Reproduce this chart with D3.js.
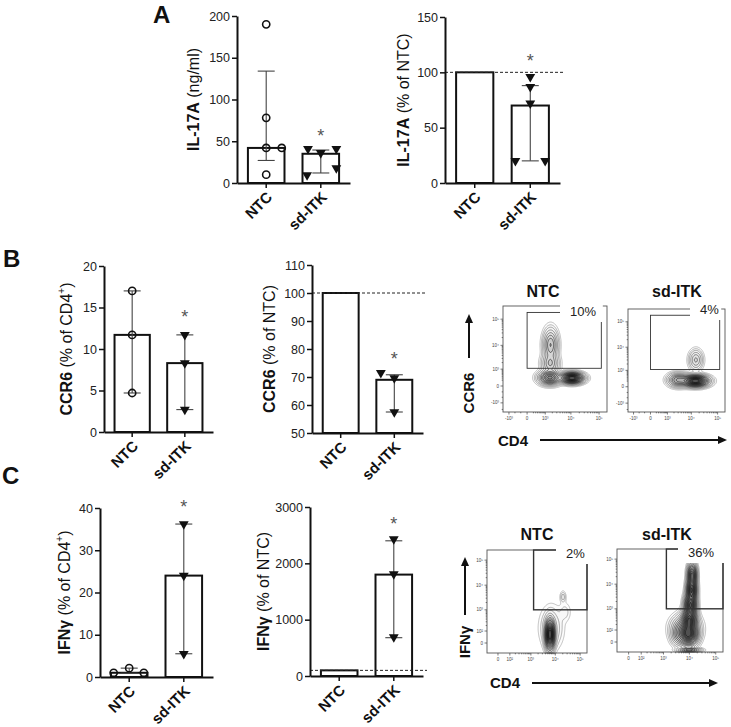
<!DOCTYPE html>
<html><head><meta charset="utf-8">
<script src="https://cdn.jsdelivr.net/npm/d3@7"></script>
<style>body{margin:0;background:#fff} svg{display:block} text{font-family:"Liberation Sans",Arial,Helvetica,sans-serif}</style>
</head><body><svg id="c" width="731" height="727"></svg>
<script>
// ---------------- DATA ----------------
const categories = ["NTC", "sd-ITK"];

// A (left): IL-17A (ng/ml)
const a1Ticks = [0, 50, 100, 150, 200];
const a1Bars = [42, 35];
const a1ErrLow = [27, 12];
const a1ErrHigh = [134, 39.5];
const a1NtcPoints = [190, 78, 42, 42, 10];
const a1NtcJitter = [0, 0, 0, 0.85, 0];
const a1ItkPoints = [41, 41, 36, 18, 9.6];
const a1ItkJitter = [-0.7, 0.85, 0, 0.85, -0.75];
const a1Star = 61;

// A (right): IL-17A (% of NTC)
const a2Ticks = [0, 50, 100, 150];
const a2Bars = [100, 70];
const a2ErrLow = [null, 20];
const a2ErrHigh = [null, 88];
const a2NtcPoints = [];
const a2NtcJitter = [];
const a2ItkPoints = [96, 87, 72, 20, 20];
const a2ItkJitter = [0, 0, 0, -0.8, 0.8];
const a2Star = 114;

// B (left): CCR6 (% of CD4+)
const b1Ticks = [0, 5, 10, 15, 20];
const b1Bars = [11.7, 8.3];
const b1ErrLow = [4.7, 2.7];
const b1ErrHigh = [17, 11.7];
const b1NtcPoints = [17, 11.7, 4.7];
const b1NtcJitter = [0, 0, 0];
const b1ItkPoints = [11.7, 8.3, 2.7];
const b1ItkJitter = [0, 0, 0];
const b1Star = 14.3;

// B (middle): CCR6 (% of NTC)
const b2Ticks = [50, 60, 70, 80, 90, 100, 110];
const b2Bars = [100, 69];
const b2ErrLow = [null, 57.5];
const b2ErrHigh = [null, 70.8];
const b2NtcPoints = [];
const b2NtcJitter = [];
const b2ItkPoints = [71.5, 69.6, 57.5];
const b2ItkJitter = [-0.75, 0, 0];
const b2Star = 78;

// C (left): IFNγ (% of CD4+)
const c1Ticks = [0, 10, 20, 30, 40];
const c1Bars = [1.0, 24];
const c1ErrLow = [0.9, 5.5];
const c1ErrHigh = [2.1, 36.2];
const c1NtcPoints = [1, 2.1, 1];
const c1NtcJitter = [-0.85, 0, 0.8];
const c1ItkPoints = [36.2, 24, 5.5];
const c1ItkJitter = [0, 0, 0];
const c1Star = 41.2;

// C (middle): IFNγ (% of NTC)
const c2Ticks = [0, 1000, 2000, 3000];
const c2Bars = [100, 1800];
const c2ErrLow = [null, 680];
const c2ErrHigh = [null, 2400];
const c2NtcPoints = [];
const c2NtcJitter = [];
const c2ItkPoints = [2430, 1810, 690];
const c2ItkJitter = [0, 0, 0];
const c2Star = 2770;

// Flow cytometry (contour plots)
const flowTitles = ["NTC", "sd-ITK"];
const flowBPercents = ["10%", "4%"];
const flowCPercents = ["2%", "36%"];
const flowBXDomain = [-1800, 190000];
const flowBYDomain = [-2575, 315000];
const flowCXDomain = [-88, 189000];
const flowCYDomain = [-75, 253000];
const flowBTickValues = [-1000, 0, 1000, 10000, 100000];
const flowBTickLabels = ["-10³", "0", "10³", "10⁴", "10⁵"];
const flowCTickValues = [0, 100, 1000, 10000, 100000];
const flowCTickLabels = ["0", "10²", "10³", "10⁴", "10⁵"];
const flowBGate = [0, 120000, 1100, 180000];     // CD4 min/max, CCR6 min/max
const flowCGate = [1300, 189000, 1000, 253000];  // CD4 min/max, IFNγ min/max
// density blobs: [CD4, marker, spread CD4 (decades), spread marker (decades), weight]
const flowBNtcBlobs = [[11000, 300, 0.45, 0.23, 1.0], [1600, 320, 0.45, 0.3, 0.5], [1700, 10400, 0.3, 0.7, 0.22], [1650, 1800, 0.35, 0.45, 0.16]];
const flowBItkBlobs = [[14400, 205, 0.55, 0.25, 1.0], [3100, 250, 0.45, 0.3, 0.32], [15000, 3000, 0.3, 0.45, 0.12]];
const flowCNtcBlobs = [[6100, 60, 0.22, 0.7, 1.0], [7000, 150, 0.55, 1.0, 0.05], [24600, 806, 0.3, 0.5, 0.015], [20500, 3350, 0.14, 0.28, 0.03]];
const flowCItkBlobs = [[12800, 23400, 0.2, 0.55, 0.8], [12200, 5850, 0.22, 0.55, 1.0], [11000, 1430, 0.26, 0.55, 1.0], [10000, 325, 0.32, 0.55, 1.0], [9400, 45, 0.4, 0.5, 1.0], [7200, 130, 0.58, 0.6, 0.45], [3900, 45, 0.35, 0.5, 0.2], [10000, -54, 0.5, 0.1, 0.35]];
const contourLevels = [0.004, 0.01, 0.02, 0.04, 0.07, 0.11, 0.16, 0.22, 0.3, 0.38, 0.47, 0.56, 0.66, 0.76, 0.86];

// ---------------- LAYOUT ----------------
const svg = d3.select("#c");
const FONT = '"Liberation Sans",Arial,Helvetica,sans-serif';

function barPanel(L, D) {
  const g = svg.append("g");
  const y = d3.scaleLinear().domain([D.ticks[0], D.ticks[D.ticks.length - 1]]).range([L.yBot, L.yTop]);
  const x = d3.scaleBand().domain(categories).range([L.x0, L.x1]).paddingInner(0.33).paddingOuter(0.2);
  const bw = x.bandwidth();
  const base = y.domain()[0];
  g.selectAll("rect.bar").data(D.bars).join("rect")
    .attr("x", (d, i) => x(categories[i])).attr("y", d => y(d))
    .attr("width", bw).attr("height", d => y(base) - y(d))
    .attr("fill", "#fff").attr("stroke", "#111").attr("stroke-width", 2);
  if (D.dashed != null) {
    g.append("line").attr("x1", L.x0).attr("x2", L.x1 + 4).attr("y1", y(D.dashed)).attr("y2", y(D.dashed))
      .attr("stroke", "#222").attr("stroke-width", 1).attr("stroke-dasharray", "3,2");
  }
  const capW = 17;
  D.bars.forEach((b, i) => {
    if (D.errLow[i] == null) return;
    const cx = x(categories[i]) + bw / 2;
    const eg = g.append("g").attr("stroke", "#444").attr("stroke-width", 1.1);
    eg.append("line").attr("x1", cx).attr("x2", cx).attr("y1", y(D.errLow[i])).attr("y2", y(D.errHigh[i]));
    [D.errLow[i], D.errHigh[i]].forEach(v => eg.append("line").attr("x1", cx - capW / 2).attr("x2", cx + capW / 2).attr("y1", y(v)).attr("y2", y(v)));
  });
  const cx0 = x(categories[0]) + bw / 2, cx1 = x(categories[1]) + bw / 2;
  D.ntc.forEach((v, i) => {
    g.append("circle").attr("cx", cx0 + D.ntcJ[i] * bw / 2).attr("cy", y(v)).attr("r", 3.6)
      .attr("fill", "none").attr("stroke", "#111").attr("stroke-width", 1.6);
  });
  const tri = d3.symbol(d3.symbolTriangle, 42);
  D.itk.forEach((v, i) => {
    g.append("path").attr("d", tri).attr("fill", "#111")
      .attr("transform", `translate(${cx1 + D.itkJ[i] * bw / 2},${y(v)}) rotate(180)`);
  });
  g.append("text").attr("x", cx1).attr("y", y(D.star) + 10).attr("text-anchor", "middle")
    .attr("font-size", 18).attr("fill", "#555").text("*");
  const ya = g.append("g").attr("transform", `translate(${L.x0},0)`)
    .call(d3.axisLeft(y).tickValues(D.ticks).tickFormat(d3.format("d")).tickSize(5).tickSizeOuter(0).tickPadding(2));
  ya.select(".domain").attr("stroke-width", 2).attr("stroke", "#111");
  ya.selectAll(".tick line").attr("stroke-width", 1.5).attr("stroke", "#111");
  ya.selectAll(".tick text").attr("font-size", 12.5).attr("font-family", FONT).attr("fill", "#222");
  const xa = g.append("g").attr("transform", `translate(0,${L.yBot})`)
    .call(d3.axisBottom(x).tickSize(5).tickSizeOuter(0));
  xa.select(".domain").attr("stroke-width", 2).attr("stroke", "#111");
  xa.selectAll(".tick line").attr("stroke-width", 1.5).attr("stroke", "#111");
  xa.selectAll(".tick text").attr("font-size", 15).attr("font-weight", "bold").attr("font-family", FONT)
    .attr("fill", "#111").attr("text-anchor", "end").attr("x", 0).attr("y", 0).attr("dy", 0)
    .attr("transform", "translate(7,15) rotate(-45)");
  const t = g.append("text").attr("transform", `translate(${L.labelX},${(L.yTop + L.yBot) / 2}) rotate(-90)`)
    .attr("text-anchor", "middle").attr("font-size", 16).attr("fill", "#111");
  D.label.forEach(part => {
    const s = t.append("tspan").text(part[0]);
    if (part[1] === "b") s.attr("font-weight", "bold");
    if (part[1] === "sup") s.attr("font-size", 10).attr("dy", -7);
    if (part[1] === "after") s.attr("dy", 7);
  });
}

barPanel({x0: 237, x1: 350, yTop: 16, yBot: 183, labelX: 199},
  {ticks: a1Ticks, bars: a1Bars, errLow: a1ErrLow, errHigh: a1ErrHigh, ntc: a1NtcPoints, ntcJ: a1NtcJitter, itk: a1ItkPoints, itkJ: a1ItkJitter, star: a1Star, dashed: null,
   label: [["IL-17A", "b"], [" (ng/ml)", ""]]});
barPanel({x0: 445, x1: 560, yTop: 17, yBot: 183, labelX: 409},
  {ticks: a2Ticks, bars: a2Bars, errLow: a2ErrLow, errHigh: a2ErrHigh, ntc: a2NtcPoints, ntcJ: a2NtcJitter, itk: a2ItkPoints, itkJ: a2ItkJitter, star: a2Star, dashed: 100,
   label: [["IL-17A", "b"], [" (% of NTC)", ""]]});
barPanel({x0: 104, x1: 213, yTop: 266, yBot: 432, labelX: 72},
  {ticks: b1Ticks, bars: b1Bars, errLow: b1ErrLow, errHigh: b1ErrHigh, ntc: b1NtcPoints, ntcJ: b1NtcJitter, itk: b1ItkPoints, itkJ: b1ItkJitter, star: b1Star, dashed: null,
   label: [["CCR6", "b"], [" (% of CD4", ""], ["+", "sup"], [")", "after"]]});
barPanel({x0: 312, x1: 423, yTop: 265, yBot: 433, labelX: 275},
  {ticks: b2Ticks, bars: b2Bars, errLow: b2ErrLow, errHigh: b2ErrHigh, ntc: b2NtcPoints, ntcJ: b2NtcJitter, itk: b2ItkPoints, itkJ: b2ItkJitter, star: b2Star, dashed: 100,
   label: [["CCR6", "b"], [" (% of NTC)", ""]]});
barPanel({x0: 100, x1: 213, yTop: 508, yBot: 677, labelX: 70},
  {ticks: c1Ticks, bars: c1Bars, errLow: c1ErrLow, errHigh: c1ErrHigh, ntc: c1NtcPoints, ntcJ: c1NtcJitter, itk: c1ItkPoints, itkJ: c1ItkJitter, star: c1Star, dashed: null,
   label: [["IFNγ", "b"], [" (% of CD4", ""], ["+", "sup"], [")", "after"]]});
barPanel({x0: 310, x1: 423, yTop: 507, yBot: 676, labelX: 269},
  {ticks: c2Ticks, bars: c2Bars, errLow: c2ErrLow, errHigh: c2ErrHigh, ntc: c2NtcPoints, ntcJ: c2NtcJitter, itk: c2ItkPoints, itkJ: c2ItkJitter, star: c2Star, dashed: 100,
   label: [["IFNγ", "b"], [" (% of NTC)", ""]]});

[["A", 153, 23], ["B", 3, 267], ["C", 2, 484]].forEach(([l, x, y]) =>
  svg.append("text").attr("x", x).attr("y", y).attr("font-size", 24).attr("font-weight", "bold").attr("fill", "#111").text(l));

// ---------------- FLOW PLOTS ----------------
function flowPlot(P) {
  const g = svg.append("g");
  const [bx, by, bw, bh] = P.box;
  const xs = d3.scaleSymlog().constant(P.c).domain(P.xDomain).range([bx, bx + bw]);
  const ys = d3.scaleSymlog().constant(P.c).domain(P.yDomain).range([by + bh, by]);
  const T = v => Math.sign(v) * Math.log1p(Math.abs(v) / P.c);
  const ux = bw / (T(P.xDomain[1]) - T(P.xDomain[0]));
  const uy = bh / (T(P.yDomain[1]) - T(P.yDomain[0]));
  const W = Math.round(bw), H = Math.round(bh);
  const vals = new Float64Array(W * H);
  const bl = P.blobs.map(b => ({x: xs(b[0]) - bx, y: ys(b[1]) - by, sx: b[2] * ux, sy: b[3] * uy, w: b[4]}));
  let mx = 0;
  for (let j = 0; j < H; j++) for (let i = 0; i < W; i++) {
    let s = 0;
    for (const b of bl) { const dx = (i + 0.5 - b.x) / b.sx, dy = (j + 0.5 - b.y) / b.sy; s += b.w * Math.exp(-0.5 * (dx * dx + dy * dy)); }
    vals[j * W + i] = s; if (s > mx) mx = s;
  }
  const N = contourLevels.length;
  const cs = d3.contours().size([W, H]).thresholds(contourLevels.map(l => l * mx))(vals);
  const cg = g.append("g").attr("transform", `translate(${bx},${by})`);
  cg.selectAll("path").data(cs).join("path").attr("d", d3.geoPath())
    .attr("fill", "#000").attr("fill-opacity", (d, i) => 0.01 + 0.14 * Math.pow(i / (N - 1), 1.3))
    .attr("stroke", (d, i) => d3.interpolateRgb("#8f8f8f", "#000")(Math.min(1, i / 6)))
    .attr("stroke-width", 0.55);
  g.append("rect").attr("x", bx).attr("y", by).attr("width", bw).attr("height", bh)
    .attr("fill", "none").attr("stroke", "#555").attr("stroke-width", 0.9);
  const gx0 = xs(P.gate[0]), gx1 = xs(P.gate[1]), gy0 = ys(P.gate[2]), gy1 = ys(P.gate[3]);
  g.append("rect").attr("x", gx0).attr("y", gy1).attr("width", gx1 - gx0).attr("height", gy0 - gy1)
    .attr("fill", "none").attr("stroke", "#333").attr("stroke-width", P.gateW);
  g.append("rect").attr("x", P.pctX - 10).attr("y", by - 4).attr("width", gx1 + 1.5 - (P.pctX - 10)).attr("height", P.pctY + 6 - (by - 4))
    .attr("fill", "#fff");
  g.append("text").attr("x", P.pctX).attr("y", P.pctY).attr("font-size", 13).attr("fill", "#222").text(P.pct);
  g.append("text").attr("x", P.titleX).attr("y", P.titleY).attr("text-anchor", "middle")
    .attr("font-size", 16).attr("font-weight", "bold").attr("fill", "#111").text(P.title);
  const tk = g.append("g").attr("stroke", "#444").attr("stroke-width", 0.7);
  P.tickValues.forEach((v, i) => {
    const px = xs(v), py = ys(v);
    if (v >= P.xDomain[0]) {
      tk.append("line").attr("x1", px).attr("x2", px).attr("y1", by + bh).attr("y2", by + bh + 2.5);
      g.append("text").attr("x", px).attr("y", by + bh + 8).attr("text-anchor", "middle").attr("font-size", 4.5).attr("fill", "#444").text(P.tickLabels[i]);
    }
    if (v >= P.yDomain[0]) {
      tk.append("line").attr("x1", bx - 2.5).attr("x2", bx).attr("y1", py).attr("y2", py);
      g.append("text").attr("x", bx - 4).attr("y", py + 1.5).attr("text-anchor", "end").attr("font-size", 4.5).attr("fill", "#444").text(P.tickLabels[i]);
    }
  });
  const minors = [];
  [100, 1000, 10000].forEach(dec => { for (let k = 2; k <= 9; k++) minors.push(dec * k); minors.push(-dec * 2, -dec * 5); });
  minors.forEach(v => {
    if (v > P.xDomain[0] && v < P.xDomain[1]) tk.append("line").attr("x1", xs(v)).attr("x2", xs(v)).attr("y1", by + bh).attr("y2", by + bh + 1.3);
    if (v > P.yDomain[0] && v < P.yDomain[1]) tk.append("line").attr("x1", bx - 1.3).attr("x2", bx).attr("y1", ys(v)).attr("y2", ys(v));
  });
}

flowPlot({box: [503, 306, 104, 106], c: 300, xDomain: flowBXDomain, yDomain: flowBYDomain, blobs: flowBNtcBlobs, gate: flowBGate, gateW: 0.9,
  pct: flowBPercents[0], pctX: 570, pctY: 316, title: flowTitles[0], titleX: 543, titleY: 297, tickValues: flowBTickValues, tickLabels: flowBTickLabels});
flowPlot({box: [628, 309, 97, 103], c: 300, xDomain: flowBXDomain, yDomain: flowBYDomain, blobs: flowBItkBlobs, gate: flowBGate, gateW: 0.9,
  pct: flowBPercents[1], pctX: 700, pctY: 314, title: flowTitles[1], titleX: 677, titleY: 297, tickValues: flowBTickValues, tickLabels: flowBTickLabels});
flowPlot({box: [487, 550, 100, 103], c: 50, xDomain: flowCXDomain, yDomain: flowCYDomain, blobs: flowCNtcBlobs, gate: flowCGate, gateW: 1.4,
  pct: flowCPercents[0], pctX: 566, pctY: 558, title: flowTitles[0], titleX: 537, titleY: 540, tickValues: flowCTickValues, tickLabels: flowCTickLabels});
flowPlot({box: [617, 549, 106, 103], c: 50, xDomain: flowCXDomain, yDomain: flowCYDomain, blobs: flowCItkBlobs, gate: flowCGate, gateW: 1.4,
  pct: flowCPercents[1], pctX: 688, pctY: 557, title: flowTitles[1], titleX: 667, titleY: 540, tickValues: flowCTickValues, tickLabels: flowCTickLabels});

function arrow(x1, y1, x2, y2) {
  const a = Math.atan2(y2 - y1, x2 - x1), L = 9, Wd = 4;
  const bxp = x2 - L * Math.cos(a), byp = y2 - L * Math.sin(a);
  svg.append("line").attr("x1", x1).attr("y1", y1).attr("x2", bxp).attr("y2", byp).attr("stroke", "#111").attr("stroke-width", 2);
  svg.append("path").attr("d", `M${x2},${y2}L${bxp - Wd * Math.sin(a)},${byp + Wd * Math.cos(a)}L${bxp + Wd * Math.sin(a)},${byp - Wd * Math.cos(a)}Z`).attr("fill", "#111");
}
arrow(469, 358, 469, 314);
arrow(540, 440, 727, 440);
arrow(465, 615, 465, 557);
arrow(532, 683, 718, 683);
function axisWord(txt, x, y, rot) {
  svg.append("text").attr("transform", `translate(${x},${y})${rot ? " rotate(-90)" : ""}`).attr("text-anchor", rot ? "middle" : "start")
    .attr("font-size", 15).attr("font-weight", "bold").attr("fill", "#111").text(txt);
}
axisWord("CCR6", 474, 393, true);
axisWord("CD4", 498, 446, false);
axisWord("IFNγ", 470, 642, true);
axisWord("CD4", 490, 688, false);
</script></body></html>
